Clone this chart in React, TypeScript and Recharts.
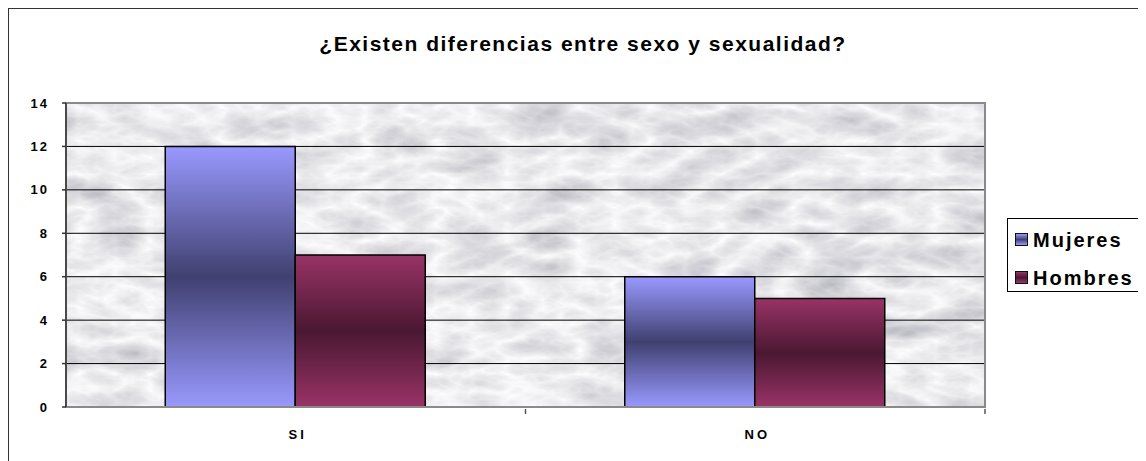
import { BarChart, Bar, XAxis, YAxis, CartesianGrid, ReferenceArea } from "recharts";

// categorias y valores
const categories = ["SI", "NO"];
const mujeres = [12, 6];
const hombres = [7, 5];
const yTicks = [0, 2, 4, 6, 8, 10, 12, 14];
const seriesNames = ["Mujeres", "Hombres"];

const title = "¿Existen diferencias entre sexo y sexualidad?";

const data = categories.map((cat, i) => ({
  cat,
  Mujeres: mujeres[i],
  Hombres: hombres[i],
}));

const W = 1138;
const H = 453;
const M = { top: 95, right: 161, bottom: 24, left: 0 };
const Y_W = 58;
const PLOT_W = W - M.left - M.right - Y_W;
const HALF_BAND = PLOT_W / categories.length / 2;

const FONT = "'Liberation Sans', Arial, sans-serif";

const XTick = (props: any) => {
  const { x, y, payload } = props;
  return (
    <g>
      <line x1={x + HALF_BAND} y1={y} x2={x + HALF_BAND} y2={y + 5} stroke="#555" strokeWidth={1.5} />
      <text
        x={x + 2}
        y={y + 25}
        dy="0.35em"
        textAnchor="middle"
        fontFamily={FONT}
        fontWeight="bold"
        fontSize={13}
        letterSpacing={3}
        fill="#000"
      >
        {payload.value}
      </text>
    </g>
  );
};

const swatch = (a: string, b: string) => ({
  display: "inline-block",
  width: 11,
  height: 11,
  border: "1.5px solid #111",
  background: `linear-gradient(to bottom, ${a}, ${b} 50%, ${a})`,
  marginRight: 5,
  verticalAlign: "middle",
});

const swatchColors = [
  ["#9999ff", "#404070"],
  ["#993366", "#4a1832"],
];

export default function App() {
  return (
    <div style={{ position: "relative", width: W, height: H, overflow: "hidden" }}>
      <div
        style={{
          position: "absolute",
          left: -1,
          top: -1,
          width: W + 20,
          height: H + 20,
          border: "2px solid #333",
          boxSizing: "border-box",
        }}
      />
      <div
        style={{
          position: "absolute",
          left: 0,
          width: 1150,
          top: 24,
          textAlign: "center",
          fontFamily: FONT,
          fontWeight: "bold",
          fontSize: 21,
          letterSpacing: 1.5,
          color: "#000",
        }}
      >
        {title}
      </div>
      <div style={{ position: "absolute", left: 0, top: 0 }}>
        <BarChart width={W} height={H} data={data} margin={M} barCategoryGap="21.6%" barGap={0}>
          <defs>
            <filter id="marbleF" x="0" y="0" width="100%" height="100%" filterUnits="userSpaceOnUse">
              <feTurbulence type="turbulence" baseFrequency="0.014 0.03" numOctaves={4} seed={7} result="t" />
              <feColorMatrix
                in="t"
                type="matrix"
                values="-0.6 0 0 0 0.99  -0.6 0 0 0 0.99  -0.55 0 0 0 1  0 0 0 0 1"
              />
            </filter>
            <pattern id="marbleP" patternUnits="userSpaceOnUse" x={0} y={0} width={W} height={H}>
              <rect x={0} y={0} width={W} height={H} fill="#fff" filter="url(#marbleF)" />
            </pattern>
            <linearGradient id="gMuj" x1="0" y1="0" x2="0" y2="1">
              <stop offset="0%" stopColor="#9999ff" />
              <stop offset="50%" stopColor="#404070" />
              <stop offset="100%" stopColor="#9999ff" />
            </linearGradient>
            <linearGradient id="gHom" x1="0" y1="0" x2="0" y2="1">
              <stop offset="0%" stopColor="#993366" />
              <stop offset="50%" stopColor="#4a1832" />
              <stop offset="100%" stopColor="#993366" />
            </linearGradient>
          </defs>
          <CartesianGrid vertical={false} stroke="#000" strokeWidth={1} fill="url(#marbleP)" fillOpacity={1} />
          <ReferenceArea y1={0} y2={14} fill="none" stroke="#8a8a8a" strokeWidth={2} />
          <XAxis
            dataKey="cat"
            height={30}
            stroke="#8a8a8a"
            strokeWidth={2}
            tickLine={false}
            tickSize={0}
            tick={<XTick />}
            interval={0}
          />
          <YAxis
            width={Y_W}
            domain={[0, 14]}
            ticks={yTicks}
            interval={0}
            stroke="#333"
            strokeWidth={1.5}
            tickSize={4}
            tickMargin={13}
            tick={{ fontFamily: FONT, fontWeight: "bold", fontSize: 13, letterSpacing: 2, fill: "#000" }}
          />
          <Bar dataKey="Mujeres" fill="url(#gMuj)" stroke="#000" strokeWidth={1.5} isAnimationActive={false} />
          <Bar dataKey="Hombres" fill="url(#gHom)" stroke="#000" strokeWidth={1.5} isAnimationActive={false} />
        </BarChart>
      </div>
      <div
        style={{
          position: "absolute",
          left: 999,
          top: 210,
          width: 133,
          height: 72,
          border: "1.5px solid #000",
          background: "#fff",
          fontFamily: FONT,
          fontWeight: "bold",
          fontSize: 20,
          letterSpacing: 2,
          color: "#000",
        }}
      >
        {seriesNames.map((name, i) => (
          <div
            key={name}
            style={{ position: "absolute", left: 7, top: 8 + i * 38, whiteSpace: "nowrap", lineHeight: "22px" }}
          >
            <span style={swatch(swatchColors[i][0], swatchColors[i][1])} />
            <span style={{ verticalAlign: "middle" }}>{name}</span>
          </div>
        ))}
      </div>
    </div>
  );
}
